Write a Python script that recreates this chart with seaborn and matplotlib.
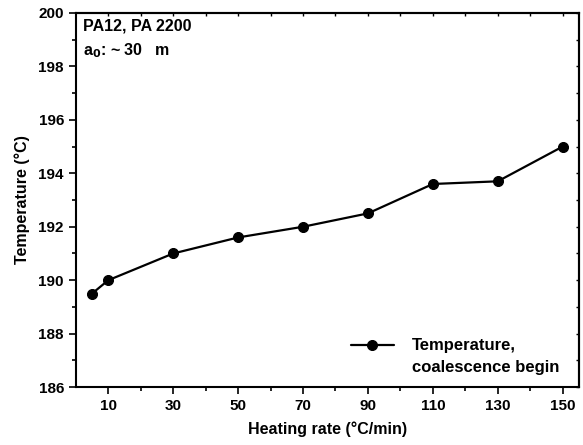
import matplotlib
matplotlib.use("Agg")
import matplotlib.pyplot as plt
import seaborn as sns
import pandas as pd
from matplotlib.lines import Line2D
from matplotlib.ticker import MultipleLocator, FixedLocator

# --- DATA ---
heating_rate = [5, 10, 30, 50, 70, 90, 110, 130, 150]
temperature = [189.5, 190.0, 191.0, 191.6, 192.0, 192.5, 193.6, 193.7, 195.0]
x_ticks = [10, 30, 50, 70, 90, 110, 130, 150]
x_minor = [20, 40, 60, 80, 100, 120, 140]
y_ticks = [186, 188, 190, 192, 194, 196, 198, 200]

sns.set_style("ticks")
plt.rcParams['font.family'] = ['Liberation Sans', 'DejaVu Sans']
plt.rcParams['font.weight'] = 'bold'
plt.rcParams['axes.labelweight'] = 'bold'
plt.rcParams['text.color'] = 'black'
plt.rcParams['axes.labelcolor'] = 'black'
plt.rcParams['xtick.color'] = 'black'
plt.rcParams['ytick.color'] = 'black'
plt.rcParams['axes.edgecolor'] = 'black'
plt.rcParams['mathtext.default'] = 'bf'

df = pd.DataFrame({'rate': heating_rate, 'temp': temperature})

fig = plt.figure(figsize=(5.83, 4.45), dpi=100)
ax = fig.add_axes([0.130, 0.130, 0.863, 0.841])

sns.lineplot(data=df, x='rate', y='temp', ax=ax, color='black', marker='o',
             markersize=7.2, linewidth=1.6, markeredgecolor='black',
             label='Temperature,')

ax.set_xlim(0, 155)
ax.set_ylim(186, 200)
ax.xaxis.set_major_locator(FixedLocator(x_ticks))
ax.xaxis.set_minor_locator(FixedLocator(x_minor))
ax.yaxis.set_major_locator(FixedLocator(y_ticks))
ax.yaxis.set_minor_locator(MultipleLocator(1))

ax.tick_params(which='major', direction='out', length=5, width=1.2, labelsize=11)
ax.tick_params(which='minor', direction='out', length=3, width=1.2)
for s in ax.spines.values():
    s.set_linewidth(1.5)

# small inward ticks on the top and right frame
secx = ax.secondary_xaxis('top')
secx.xaxis.set_major_locator(FixedLocator(x_ticks + x_minor))
secx.tick_params(direction='in', length=2, width=1, labeltop=False)
secy = ax.secondary_yaxis('right')
secy.yaxis.set_major_locator(MultipleLocator(1))
secy.tick_params(direction='in', length=2, width=1, labelright=False)
secx.spines['top'].set_linewidth(1.5)
secy.spines['right'].set_linewidth(1.5)

ax.set_xlabel("Heating rate (°C/min)", fontsize=11.5, labelpad=6)
ax.set_ylabel("Temperature (°C)", fontsize=11.5, labelpad=6)

ax.text(0.015, 0.985, "PA12, PA 2200", transform=ax.transAxes, fontsize=11.5,
        va='top', ha='left')
ax.text(0.015, 0.925, "a$_0$: ~ 30   m", transform=ax.transAxes, fontsize=11.5,
        va='top', ha='left')

# legend: marker aligned with the first line of the two-line label
handles, labels = ax.get_legend_handles_labels()
handles.append(Line2D([], [], linestyle='none'))
labels.append('coalescence begin')
ax.legend(handles, labels, loc='lower right', frameon=False, fontsize=12,
          handlelength=2.6, bbox_to_anchor=(0.985, 0.0), borderaxespad=0.3,
          labelspacing=0.42, handletextpad=1.1)

fig.savefig("out.png", dpi=100)
